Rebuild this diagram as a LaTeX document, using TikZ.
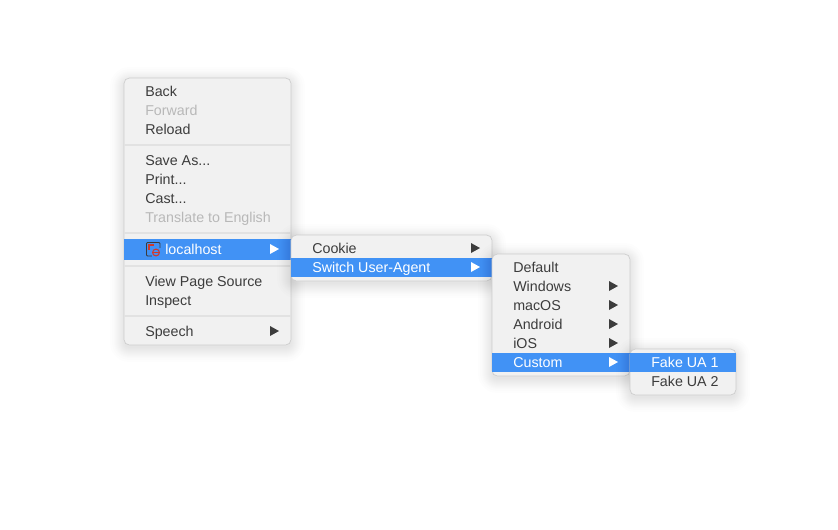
\documentclass[tikz,border=0pt]{standalone}
\usepackage{fontspec}
\setmainfont{Liberation Sans}
\usetikzlibrary{shapes,positioning,calc,fit}
\definecolor{menubg}{HTML}{F1F1F1}
\definecolor{menuline}{HTML}{CDCDCD}
\definecolor{menusep}{HTML}{E2E2E2}
\definecolor{menutext}{HTML}{3C3C3C}
\definecolor{menuoff}{HTML}{B8B8B8}
\definecolor{menusel}{HTML}{4192F5}
\definecolor{iconred}{HTML}{D0392B}

% soft shadow, then the panel itself
\newcommand{\menupanel}[5]{
  \foreach \r in {0,1,2,3,4,5,6,7,8,9,10,12,14}{
    \fill[black, opacity=0.007, rounded corners=4pt+\r*0.75pt] (#2-\r,#3-\r+3) rectangle (#4+\r,#5+\r+3);
  }
  \coordinate (#1nw) at (#2,#3);
  \coordinate (#1se) at (#4,#5);
  \node[panel, fit=(#1nw)(#1se)] (#1) {};
}

\begin{document}
\begin{tikzpicture}[x=0.75pt, y=-0.75pt,
  panel/.style={rectangle, rounded corners=4pt, draw=menuline, line width=0.5pt, fill=menubg, inner sep=0pt},
  item/.style={anchor=base west, inner sep=0pt, font=\fontsize{10.7pt}{12pt}\selectfont, text=#1},
  item/.default=menutext,
  selbar/.style={fill=menusel},
  sepline/.style={menusep, line width=1.1pt},
  tri/.style={fill=#1},
  tri/.default=menutext
]
  \useasboundingbox (0,0) rectangle (838,529);

  % Main menu
  \menupanel{mainmenu}{124}{78}{291}{345}
  \fill[selbar] (124.2,239) rectangle (290.8,260);
  \foreach \y in {145,233,266,316}{
    \draw[sepline] (124.2,\y) -- (290.8,\y);
  }
  \foreach \name/\y/\lbl in {back/91/Back, reload/129/Reload, saveas/160/{Save As...}, print/179/{Print...}, cast/198/{Cast...}, source/281/View Page Source, inspect/300/Inspect, speech/331/Speech}{
    \node[item] (\name) at (145,\y+5) {\lbl};
  }
  \node[item=menuoff] (forward) at (145,115) {Forward};
  \node[item=menuoff] (translate) at (145,222) {Translate to English};
  \node[item=white] (localhost) at (165,254) {localhost};

  % Site icon
  \draw[menutext, line width=0.7pt, rounded corners=0.8pt] (146.5,242.5) rectangle (160,256);
  \draw[iconred, line width=1pt] (149,250) -- (149,245) -- (154,245);
  \fill[menusel] (152,247.5) rectangle (162,258);
  \draw[iconred, line width=0.8pt] (156,252.5) circle (3.4);
  \draw[iconred, line width=0.5pt] (152.6,252.5) -- (159.4,252.5);

  % Submenu 1
  \menupanel{submenu}{291}{235}{492}{281}
  \fill[selbar] (291.2,258) rectangle (491.8,277);
  \node[item] (cookie) at (312,253) {Cookie};
  \node[item=white] (switch) at (312,272) {Switch User-Agent};

  % Submenu 2
  \menupanel{agents}{492}{254}{630}{376}
  \fill[selbar] (492.2,353) rectangle (629.8,372);
  \foreach \name/\y/\lbl in {default/267/Default, windows/286/Windows, macos/305/macOS, android/324/Android, ios/343/iOS}{
    \node[item] (\name) at (513,\y+5) {\lbl};
  }
  \node[item=white] (custom) at (513,367) {Custom};

  % Submenu 3
  \menupanel{fakes}{630}{349}{736}{395}
  \fill[selbar] (630.2,353) rectangle (735.8,372);
  \node[item=white] (fakea) at (651,367) {Fake UA 1};
  \node[item] (fakeb) at (651,386) {Fake UA 2};

  % Arrows
  \foreach \x/\y/\col in {270/331/menutext, 270/249/white, 471/248/menutext, 471/267/white, 609/286/menutext, 609/305/menutext, 609/324/menutext, 609/343/menutext, 609/362/white}{
    \fill[tri=\col] (\x,\y-5) -- (\x+9,\y) -- (\x,\y+5) -- cycle;
  }
\end{tikzpicture}
\end{document}
